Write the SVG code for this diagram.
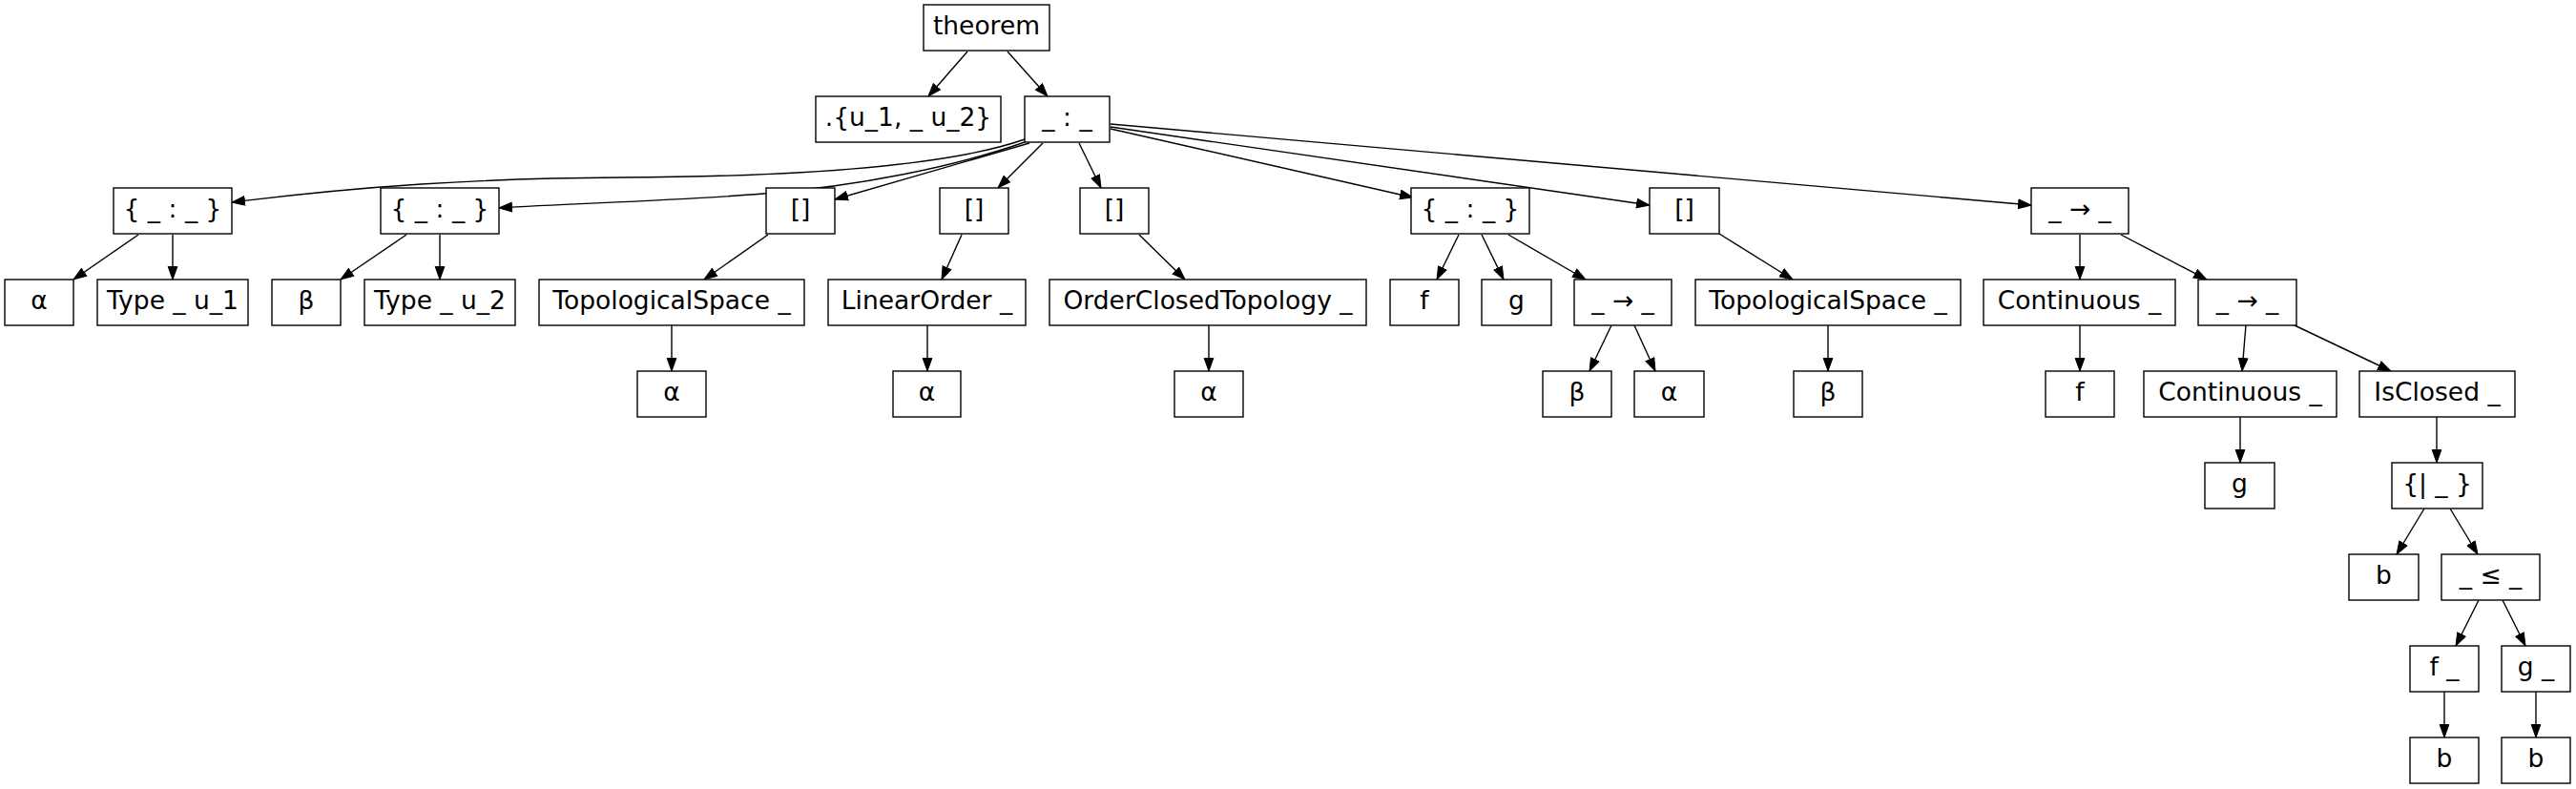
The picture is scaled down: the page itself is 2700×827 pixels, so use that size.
<svg xmlns="http://www.w3.org/2000/svg" width="2700" height="827" viewBox="0 0 2700 827">
<style>
rect{fill:#fff;stroke:#000;stroke-width:1.4}
text{font-family:"DejaVu Sans","Liberation Sans",sans-serif;font-size:26.5px;text-anchor:middle;fill:#000}
.e path{fill:none;stroke:#000;stroke-width:1.4;marker-end:url(#ah)}
</style>
<defs>
<marker id="ah" markerUnits="userSpaceOnUse" markerWidth="16" markerHeight="12" refX="14" refY="5.5" orient="auto"><path d="M0.5,0.7 L14,5.5 L0.5,10.3 z" fill="#000" stroke="#000" stroke-width="1"/></marker>
</defs>
<rect x="0" y="0" width="2700" height="827" style="stroke:none"/>
<g class="e">
<path d="M1014,54 L973,101"/>
<path d="M1056,54 L1098,101"/>
<path d="M1074,146 C1000,172 850,185 650,186 C500,187 380,195 243,212"/>
<path d="M1074,149 C1000,175 900,195 800,203 C700,211 600,213 523,218"/>
<path d="M1079,150 L875,209"/>
<path d="M1093,150 L1046,197"/>
<path d="M1131,150 L1154,197"/>
<path d="M1164,135 L1481,207"/>
<path d="M1164,133 L1729,215"/>
<path d="M1164,130 L2129,215"/>
<path d="M145,246 L77,293"/>
<path d="M181,246 L181,293"/>
<path d="M426,246 L357,293"/>
<path d="M461,246 L461,293"/>
<path d="M805,246 L738,293"/>
<path d="M1008,246 L987,293"/>
<path d="M704,341 L704,389"/>
<path d="M972,341 L972,389"/>
<path d="M1194,246 L1242,293"/>
<path d="M1267,341 L1267,389"/>
<path d="M1529,246 L1506,293"/>
<path d="M1553,246 L1576,293"/>
<path d="M1581,246 L1662,293"/>
<path d="M1689,341 L1666,389"/>
<path d="M1713,341 L1735,389"/>
<path d="M1802,245 L1879,293"/>
<path d="M1916,341 L1916,389"/>
<path d="M2180,246 L2180,293"/>
<path d="M2223,246 L2313,293"/>
<path d="M2180,341 L2180,389"/>
<path d="M2354,341 L2350,389"/>
<path d="M2405,341 L2506,389"/>
<path d="M2348,437 L2348,485"/>
<path d="M2554,437 L2554,485"/>
<path d="M2541,533 L2512,581"/>
<path d="M2568,533 L2597,581"/>
<path d="M2598,629 L2574,677"/>
<path d="M2623,629 L2647,677"/>
<path d="M2562,725 L2562,773"/>
<path d="M2658,725 L2658,773"/>
</g>
<g id="n_theorem"><rect x="968" y="5" width="132" height="48"/><text x="1034" y="36">theorem</text></g>
<g id="n_univ"><rect x="855" y="101" width="194" height="48"/><text x="952" y="132">.{u_1, _ u_2}</text></g>
<g id="n_colon"><rect x="1074" y="101" width="89" height="48"/><text x="1118.5" y="132">_ : _</text></g>
<g id="n_s1"><rect x="119" y="197" width="124" height="48"/><text x="181" y="228">{ _ : _ }</text></g>
<g id="n_s2"><rect x="399" y="197" width="124" height="48"/><text x="461" y="228">{ _ : _ }</text></g>
<g id="n_b1"><rect x="803" y="197" width="72" height="48"/><text x="839" y="228">[]</text></g>
<g id="n_b2"><rect x="985" y="197" width="72" height="48"/><text x="1021" y="228">[]</text></g>
<g id="n_b3"><rect x="1132" y="197" width="72" height="48"/><text x="1168" y="228">[]</text></g>
<g id="n_s3"><rect x="1479" y="197" width="124" height="48"/><text x="1541" y="228">{ _ : _ }</text></g>
<g id="n_b4"><rect x="1729" y="197" width="73" height="48"/><text x="1765.5" y="228">[]</text></g>
<g id="n_arr1"><rect x="2129" y="197" width="102" height="48"/><text x="2180" y="228">_ → _</text></g>
<g id="n_a1"><rect x="5" y="293" width="72" height="48"/><text x="41" y="324">α</text></g>
<g id="n_T1"><rect x="102" y="293" width="158" height="48"/><text x="181" y="324">Type _ u_1</text></g>
<g id="n_be1"><rect x="285" y="293" width="72" height="48"/><text x="321" y="324">β</text></g>
<g id="n_T2"><rect x="382" y="293" width="158" height="48"/><text x="461" y="324">Type _ u_2</text></g>
<g id="n_TS1"><rect x="565" y="293" width="278" height="48"/><text x="704" y="324">TopologicalSpace _</text></g>
<g id="n_LO"><rect x="868" y="293" width="207" height="48"/><text x="971.5" y="324">LinearOrder _</text></g>
<g id="n_OCT"><rect x="1100" y="293" width="332" height="48"/><text x="1266" y="324">OrderClosedTopology _</text></g>
<g id="n_f1"><rect x="1457" y="293" width="72" height="48"/><text x="1493" y="324">f</text></g>
<g id="n_g1"><rect x="1553" y="293" width="73" height="48"/><text x="1589.5" y="324">g</text></g>
<g id="n_arr2"><rect x="1650" y="293" width="102" height="48"/><text x="1701" y="324">_ → _</text></g>
<g id="n_TS2"><rect x="1777" y="293" width="278" height="48"/><text x="1916" y="324">TopologicalSpace _</text></g>
<g id="n_C1"><rect x="2079" y="293" width="201" height="48"/><text x="2179.5" y="324">Continuous _</text></g>
<g id="n_arr3"><rect x="2304" y="293" width="103" height="48"/><text x="2355.5" y="324">_ → _</text></g>
<g id="n_a2"><rect x="668" y="389" width="72" height="48"/><text x="704" y="420">α</text></g>
<g id="n_a3"><rect x="936" y="389" width="71" height="48"/><text x="971.5" y="420">α</text></g>
<g id="n_a4"><rect x="1231" y="389" width="72" height="48"/><text x="1267" y="420">α</text></g>
<g id="n_be2"><rect x="1617" y="389" width="72" height="48"/><text x="1653" y="420">β</text></g>
<g id="n_a5"><rect x="1713" y="389" width="73" height="48"/><text x="1749.5" y="420">α</text></g>
<g id="n_be3"><rect x="1880" y="389" width="72" height="48"/><text x="1916" y="420">β</text></g>
<g id="n_f2"><rect x="2144" y="389" width="72" height="48"/><text x="2180" y="420">f</text></g>
<g id="n_C2"><rect x="2247" y="389" width="202" height="48"/><text x="2348" y="420">Continuous _</text></g>
<g id="n_IC"><rect x="2473" y="389" width="163" height="48"/><text x="2554.5" y="420">IsClosed _</text></g>
<g id="n_g2"><rect x="2311" y="485" width="73" height="48"/><text x="2347.5" y="516">g</text></g>
<g id="n_set"><rect x="2507" y="485" width="95" height="48"/><text x="2554.5" y="516">{| _ }</text></g>
<g id="n_b5"><rect x="2462" y="581" width="73" height="48"/><text x="2498.5" y="612">b</text></g>
<g id="n_le"><rect x="2559" y="581" width="103" height="48"/><text x="2610.5" y="612">_ ≤ _</text></g>
<g id="n_fb"><rect x="2526" y="677" width="72" height="48"/><text x="2562" y="708">f _</text></g>
<g id="n_gb"><rect x="2622" y="677" width="72" height="48"/><text x="2658" y="708">g _</text></g>
<g id="n_b6"><rect x="2526" y="773" width="72" height="48"/><text x="2562" y="804">b</text></g>
<g id="n_b7"><rect x="2622" y="773" width="72" height="48"/><text x="2658" y="804">b</text></g>
</svg>
